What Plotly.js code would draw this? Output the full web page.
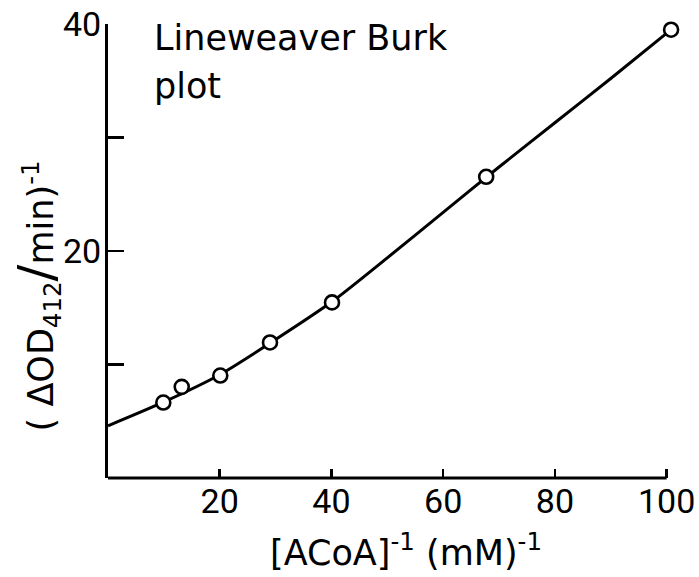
<!DOCTYPE html>
<html>
<head>
<meta charset="utf-8">
<script src="https://cdn.plot.ly/plotly-3.0.1.min.js"></script>
<style>
  html, body { margin: 0; padding: 0; background: #fff; }
  #chart { width: 699px; height: 577px; }
</style>
</head>
<body>
<div id="chart"></div>
<script>
// Measured points: [ACoA]^-1 (mM^-1) vs (ΔOD412/min)^-1
const pointX = [9.9, 13.2, 20.1, 29.0, 40.1, 67.7, 100.8];
const pointY = [6.65, 8.03, 9.03, 11.94, 15.47, 26.54, 39.5];

// Hand-drawn fitted curve, read along its path
const curveX = [0, 10, 20, 30, 40, 50, 60, 70, 80, 90, 100.8];
const curveY = [4.6, 6.7, 9.1, 12.2, 15.5, 19.4, 23.4, 27.4, 31.3, 35.2, 39.5];

// Axis ticks
const xTickVals = [20, 40, 60, 80, 100];
const xTickText = ['20', '40', '60', '80', '100'];
const yTickVals = [10, 20, 30, 40];
const yTickText = ['', '20', '', '40'];

const tickFont = {family: 'Roboto, "DejaVu Sans", sans-serif', size: 34, color: '#000'};
const textFont = {family: '"DejaVu Sans", sans-serif', size: 35, color: '#000'};

const traces = [
  {
    x: curveX, y: curveY, type: 'scatter', mode: 'lines',
    line: {color: '#000', width: 3, shape: 'spline', smoothing: 0.8},
    hoverinfo: 'skip'
  },
  {
    x: pointX, y: pointY, type: 'scatter', mode: 'markers',
    marker: {symbol: 'circle', size: 14, color: '#fff', line: {color: '#000', width: 2.6}},
    cliponaxis: false
  }
];

const layout = {
  width: 699, height: 577,
  margin: {l: 108, r: 699 - 108 - 5.59 * 101.5, t: 24, b: 99},
  paper_bgcolor: '#fff', plot_bgcolor: '#fff',
  showlegend: false,
  xaxis: {
    range: [0, 101.5], showgrid: false, zeroline: false,
    showline: false,
    ticks: 'inside', ticklen: 9, tickwidth: 2.5, tickcolor: '#000',
    tickvals: xTickVals, ticktext: xTickText,
    tickfont: tickFont, ticklabelstandoff: 0
  },
  yaxis: {
    range: [0, 40], showgrid: false, zeroline: false,
    showline: true, linecolor: '#000', linewidth: 3,
    ticks: 'inside', ticklen: 16, tickwidth: 2.5, tickcolor: '#000',
    tickvals: yTickVals, ticktext: yTickText,
    tickfont: tickFont, ticklabelstandoff: -3
  },
  shapes: [
    {type: 'line', xref: 'x', yref: 'paper', x0: 0, x1: 100, y0: 0, y1: 0,
     line: {color: '#000', width: 3}, layer: 'above'}
  ],
  annotations: [
    {
      text: 'Lineweaver Burk', xref: 'paper', yref: 'paper',
      x: (152 - 108) / 570, y: (478 - 38) / 454, xanchor: 'left', yanchor: 'middle',
      showarrow: false, font: textFont
    },
    {
      text: 'plot', xref: 'paper', yref: 'paper',
      x: (152 - 108) / 570, y: (478 - 86) / 454, xanchor: 'left', yanchor: 'middle',
      showarrow: false, font: textFont
    },
    {
      text: '[ACoA]<sup>-1</sup> (mM)<sup>-1</sup>', xref: 'paper', yref: 'paper',
      x: (408 - 108) / 570, y: (478 - 550) / 454, xanchor: 'center', yanchor: 'middle',
      showarrow: false, font: textFont
    },
    {
      text: '( ΔOD<sub>412</sub><span style="font-size:50px">/</span>min)<sup>-1</sup>', xref: 'paper', yref: 'paper',
      x: (36 - 108) / 570, y: (478 - 296) / 454, xanchor: 'center', yanchor: 'middle',
      textangle: -90, showarrow: false, font: textFont
    }
  ]
};

Plotly.newPlot('chart', traces, layout, {displayModeBar: false, staticPlot: true});
</script>
</body>
</html>
